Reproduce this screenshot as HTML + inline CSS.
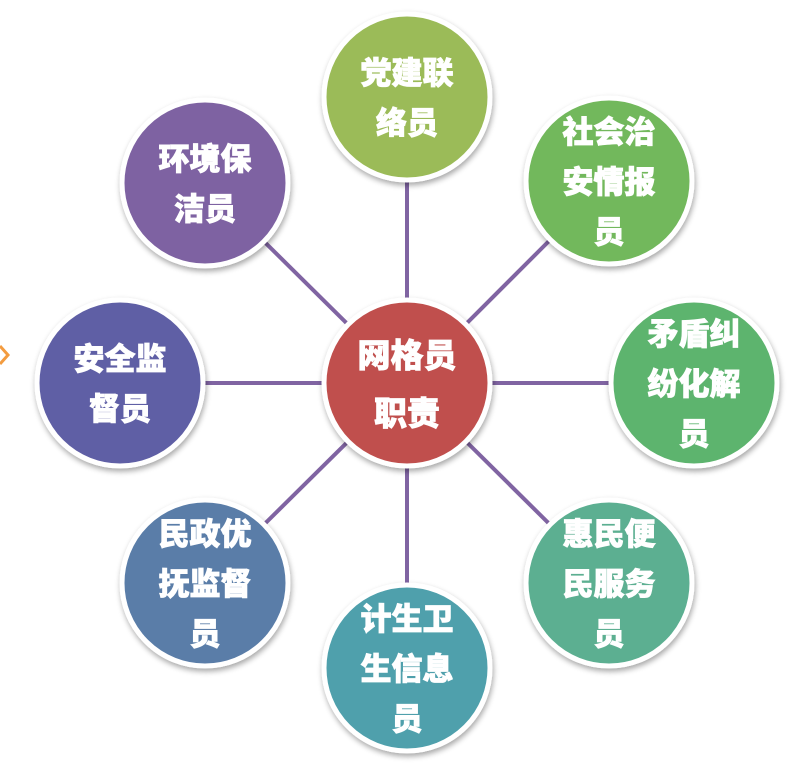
<!DOCTYPE html>
<html><head><meta charset="utf-8"><style>
html,body{margin:0;padding:0;background:#fff;width:795px;height:766px;overflow:hidden}
svg text{font-family:"Liberation Sans","Noto Sans CJK SC",sans-serif;font-weight:900;font-size:31px;fill:#fff;stroke:#fff;stroke-width:0.8;text-anchor:middle}
</style></head><body>
<svg width="795" height="766" viewBox="0 0 795 766" xmlns="http://www.w3.org/2000/svg">
<defs><filter id="sh" x="-20%" y="-20%" width="140%" height="140%"><feGaussianBlur in="SourceAlpha" stdDeviation="3"/><feOffset dx="1" dy="3"/><feComponentTransfer><feFuncA type="linear" slope="0.35"/></feComponentTransfer><feMerge><feMergeNode/><feMergeNode in="SourceGraphic"/></feMerge></filter></defs>
<path d="M0,346 L8,355 L0,364" fill="none" stroke="#f39c40" stroke-width="3"/>
<g stroke="#8064A2" stroke-width="4">
<line x1="407" y1="383" x2="407" y2="97"/>
<line x1="407" y1="383" x2="609" y2="181"/>
<line x1="407" y1="383" x2="694" y2="383"/>
<line x1="407" y1="383" x2="609" y2="583"/>
<line x1="407" y1="383" x2="407" y2="668"/>
<line x1="407" y1="383" x2="205" y2="583"/>
<line x1="407" y1="383" x2="120" y2="383"/>
<line x1="407" y1="383" x2="205" y2="183"/>
</g>
<g stroke="#fff" stroke-width="5" filter="url(#sh)">
<circle cx="407" cy="97" r="83" fill="#9BBB59"/>
<circle cx="609" cy="181" r="83" fill="#72B85B"/>
<circle cx="694" cy="383" r="83" fill="#5DB46E"/>
<circle cx="609" cy="583" r="83" fill="#5BAF91"/>
<circle cx="407" cy="668" r="83" fill="#4FA0AC"/>
<circle cx="205" cy="583" r="83" fill="#5A7DA8"/>
<circle cx="120" cy="383" r="83" fill="#5F5EA5"/>
<circle cx="205" cy="183" r="83" fill="#7E62A2"/>
<circle cx="407" cy="383" r="83" fill="#C0504D"/>
</g>
<text x="407" y="84">党建联</text><text x="407" y="134">络员</text>
<text x="609" y="143">社会治</text><text x="609" y="193">安情报</text><text x="609" y="243">员</text>
<text x="694" y="345">矛盾纠</text><text x="694" y="395">纷化解</text><text x="694" y="445">员</text>
<text x="609" y="545">惠民便</text><text x="609" y="595">民服务</text><text x="609" y="645">员</text>
<text x="407" y="630">计生卫</text><text x="407" y="680">生信息</text><text x="407" y="730">员</text>
<text x="205" y="545">民政优</text><text x="205" y="595">抚监督</text><text x="205" y="645">员</text>
<text x="120" y="370">安全监</text><text x="120" y="420">督员</text>
<text x="205" y="170">环境保</text><text x="205" y="220">洁员</text>
<text x="407" y="367" style="font-size:33px">网格员</text><text x="407" y="425" style="font-size:33px">职责</text>
</svg>
</body></html>
